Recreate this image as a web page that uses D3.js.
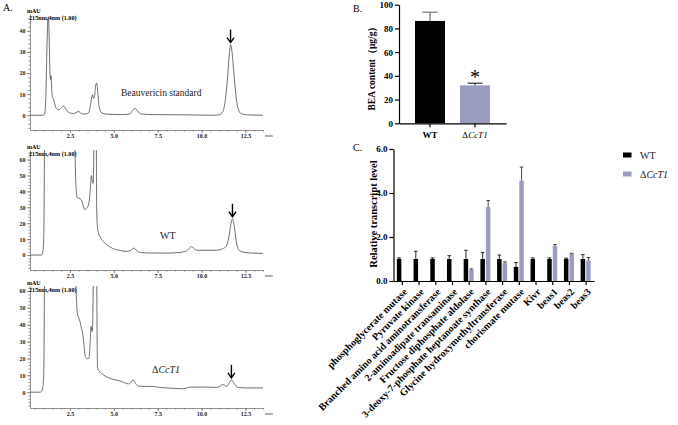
<!DOCTYPE html>
<html>
<head>
<meta charset="utf-8">
<script src="https://cdn.jsdelivr.net/npm/d3@7"></script>
<style>
  body { margin: 0; background: #fff; }
  svg { font-family: "Liberation Serif", "Times New Roman", serif; }
</style>
</head>
<body>
<svg id="fig" width="678" height="425"></svg>
<script>
// ---------- data: chromatograms (time min, mAU) ----------
var stdTrace = [[0.22,0],[0.95,0],[1.05,0.5],[1.12,8],[1.18,30],[1.23,44],[1.27,46.7],[1.31,38],[1.35,22],[1.39,17],[1.42,18.7],
  [1.46,12],[1.5,8.5],[1.55,7.9],[1.6,6.5],[1.7,3.5],[1.85,2.5],[2.0,3.5],[2.12,4.4],[2.25,3],[2.45,1.2],[2.7,0.8],[2.9,1.5],
  [3.0,1.9],[3.1,1],[3.3,0.5],[3.55,1],[3.67,5],[3.75,9],[3.79,9.7],[3.84,8],[3.9,9],[3.96,14],[4.02,15.2],[4.08,11],[4.16,4],
  [4.3,1.2],[4.6,0.5],[5.5,0.3],[5.9,0.6],[6.05,2],[6.2,3.3],[6.35,2],[6.55,0.6],[7.2,0.3],[9,0.2],[10.6,0],[11.0,0.2],[11.2,1.5],
  [11.35,7],[11.48,18],[11.58,29],[11.65,33.5],[11.72,31],[11.82,22],[11.95,10],[12.08,3],[12.25,0.8],[12.6,0.2],[13.5,0]];

var wtTrace = [[0.22,0],[0.88,0],[0.95,2],[1.0,10],[1.04,60],[1.08,200],[1.3,300],[2.6,300],[2.7,200],[2.78,70],[2.86,40],
  [2.92,36],[3.05,35.5],[3.15,34.5],[3.25,31],[3.35,28.5],[3.45,29.5],[3.55,31.5],[3.65,40],[3.72,50],[3.78,46],[3.82,45],
  [3.86,70],[3.9,150],[3.97,150],[4.02,30],[4.06,18],[4.12,14],[4.2,11.7],[4.4,8.5],[4.6,6.5],[4.8,5],[5.0,3.8],[5.3,3],
  [5.7,2.3],[5.95,2.8],[6.14,4.4],[6.3,2.8],[6.5,1.6],[7.0,1.3],[8.0,1.2],[8.6,1.5],[9.1,2.3],[9.3,4.2],[9.42,5.4],[9.55,4.2],
  [9.75,3],[10.3,3],[10.85,3],[11.2,4],[11.4,5.5],[11.55,11],[11.68,20],[11.76,22.8],[11.85,19],[11.97,9],[12.1,3.5],
  [12.3,2],[12.9,1.2],[13.5,1]];

var mutTrace = [[0.22,0],[0.8,0],[0.88,0.5],[0.95,3],[1.0,10],[1.04,60],[1.08,200],[1.3,300],[2.6,300],[2.75,150],[2.84,65],
  [2.92,47],[3.0,44],[3.07,42],[3.15,38],[3.22,35],[3.3,28],[3.35,22.2],[3.42,20.5],[3.49,19.8],[3.56,20],[3.6,21.2],[3.66,32],
  [3.7,39],[3.74,37],[3.77,36],[3.82,60],[3.86,150],[3.99,150],[4.04,40],[4.07,14.3],[4.2,12],[4.4,10.3],[4.6,9],[4.78,8.3],
  [5.0,7.5],[5.34,6.7],[5.6,5.6],[5.82,4.9],[5.95,5.8],[6.1,7.3],[6.25,5],[6.39,3.7],[6.8,3.4],[7.24,3.4],[7.6,2.8],[8.0,2.5],
  [8.5,2.2],[8.95,2.0],[9.15,2.5],[9.33,3],[9.8,3],[10.28,3],[10.85,2.8],[11.05,3.5],[11.19,4.5],[11.3,4.2],[11.42,3.4],
  [11.55,5],[11.7,7.3],[11.82,6],[12.02,3],[12.3,2.6],[12.55,2.5],[13.5,2.5]];

var chromNames = ["Beauvericin standard", "WT", "ΔCcT1"];
var arrowTimes = [11.65, 11.76, 11.7];
var timeTicks = [2.5, 5.0, 7.5, 10.0, 12.5];

// ---------- data: panel B ----------
var beaGroups = ["WT", "ΔCcT1"];
var beaMean = [86.3, 32];
var beaSd = [7.4, 1.8];

// ---------- data: panel C ----------
var genes = ["phosphoglycerate mutase", "Pyruvate kinase", "Branched amino acid aminotransferase",
  "2-aminoadipate transaminase", "Fructose diphosphate aldolase", "3-deoxy-7-phosphate heptanoate synthase",
  "Glycine hydroxymethyltransferase", "chorismate mutase", "Kivr", "beas1", "beas2", "beas3"];
var wtLevel = [1, 1, 1, 1, 1, 1, 1, 0.64, 1, 1, 1, 1];
var wtSd = [0.05, 0.35, 0.05, 0.15, 0.4, 0.3, 0.18, 0.2, 0.05, 0.05, 0.04, 0.2];
var mutLevel = [null, null, null, null, 0.5, 3.36, 0.82, 4.56, null, 1.59, 1.23, 0.92];
var mutSd = [null, null, null, null, 0.05, 0.3, 0.05, 0.62, null, 0.07, 0.03, 0.15];

var purple = "#9a9cc0";
var svg = d3.select("#fig");

// writes a label; a leading Δ stays upright, the gene name goes italic
function deltaText(sel, s) {
  if (s.charAt(0) === "Δ") {
    sel.append("tspan").text("Δ");
    sel.append("tspan").attr("font-style", "italic").text(s.slice(1));
  } else {
    sel.text(s);
  }
}

// ================= A: chromatograms =================
svg.append("text").attr("x", 3).attr("y", 11).attr("font-size", 10).text("A.");

var xc = d3.scaleLinear().domain([0.22, 13.5]).range([30, 263]);

var panels = [
  { trace: stdTrace, top: 14, bottom: 130, yDom: [-7, 48], yTicks: [0, 10, 20, 30, 40], lx: 121, ly: 95.5, fs: 9.5 },
  { trace: wtTrace, top: 150, bottom: 270, yDom: [-9.4, 66], yTicks: [0, 10, 20, 30, 40, 50, 60], lx: 160, ly: 239, fs: 10 },
  { trace: mutTrace, top: 286, bottom: 408, yDom: [-9.4, 63], yTicks: [0, 10, 20, 30, 40, 50, 60], lx: 152, ly: 372.5, fs: 10 }
];

panels.forEach(function(p, i) {
  var y = d3.scaleLinear().domain(p.yDom).range([p.bottom, p.top]);
  var g = svg.append("g");

  // minor ticks
  g.append("g").attr("transform", "translate(30,0)")
    .call(d3.axisLeft(y).tickValues(d3.range(Math.ceil(p.yDom[0] / 2) * 2, p.yDom[1], 2)).tickSize(1.6).tickFormat("").tickSizeOuter(0))
    .call(a => a.select(".domain").remove());
  g.append("g").attr("transform", "translate(0," + p.bottom + ")")
    .call(d3.axisBottom(xc).tickValues(d3.range(0.5, 13.6, 0.5)).tickSize(1.6).tickFormat("").tickSizeOuter(0))
    .call(a => a.select(".domain").remove());

  var yAx = g.append("g").attr("transform", "translate(30,0)")
    .call(d3.axisLeft(y).tickValues(p.yTicks).tickSize(3).tickSizeOuter(0).tickPadding(1.5));
  var xAx = g.append("g").attr("transform", "translate(0," + p.bottom + ")")
    .call(d3.axisBottom(xc).tickValues(timeTicks).tickFormat(d3.format(".1f")).tickSize(3).tickSizeOuter(0));
  xAx.selectAll("text").attr("y", 4).attr("dy", "0.71em");

  [yAx, xAx].forEach(function(a) {
    a.selectAll("text").attr("font-family", "Liberation Serif").attr("font-size", 6).attr("font-weight", "bold").attr("fill", "#222");
  });
  g.selectAll("path.domain, line").attr("stroke", "#777").attr("stroke-width", 0.8);

  g.append("text").attr("x", 27).attr("y", p.top - 1.5).attr("font-size", 6).attr("font-weight", "bold").text("mAU");
  g.append("text").attr("x", 29).attr("y", p.top + 5.5).attr("font-size", 6.2).attr("font-weight", "bold").text("215nm,4nm (1.00)");
  g.append("text").attr("x", 265).attr("y", p.bottom + 7).attr("font-size", 5).attr("fill", "#333").text("min");

  // trace
  var clipId = "clip" + i;
  svg.append("clipPath").attr("id", clipId).append("rect")
    .attr("x", 30).attr("y", p.top).attr("width", 235).attr("height", p.bottom - p.top);
  var line = d3.line().x(d => xc(d[0])).y(d => y(d[1])).curve(d3.curveMonotoneX);
  g.append("path").datum(p.trace).attr("clip-path", "url(#" + clipId + ")")
    .attr("d", line).attr("fill", "none").attr("stroke", "#4a4a4a").attr("stroke-width", 0.8);

  // arrow over the beauvericin peak
  var pk = p.trace.reduce((a, b) => Math.abs(b[0] - arrowTimes[i]) < Math.abs(a[0] - arrowTimes[i]) ? b : a);
  var ax = xc(arrowTimes[i]), ay = y(pk[1]) - 2;
  g.append("line").attr("x1", ax).attr("x2", ax).attr("y1", ay - 13).attr("y2", ay)
    .attr("stroke", "#000").attr("stroke-width", 1.4);
  g.append("path").attr("d", "M" + (ax - 3.5) + "," + (ay - 5) + "L" + ax + "," + ay + "L" + (ax + 3.5) + "," + (ay - 5))
    .attr("fill", "none").attr("stroke", "#000").attr("stroke-width", 1.4);

  var lab = g.append("text").attr("x", p.lx).attr("y", p.ly).attr("font-size", p.fs).attr("fill", "#222");
  deltaText(lab, chromNames[i]);
});

// ================= B: BEA content =================
svg.append("text").attr("x", 353).attr("y", 12).attr("font-size", 10).text("B.");

var xb = d3.scaleBand().domain(beaGroups).range([399, 506]).paddingInner(0.333).paddingOuter(0.356);
var yb = d3.scaleLinear().domain([0, 100]).range([123.3, 4.7]);
var gb = svg.append("g");

gb.selectAll("rect.bar").data(beaGroups).enter().append("rect")
  .attr("x", d => xb(d)).attr("width", xb.bandwidth())
  .attr("y", (d, i) => yb(beaMean[i])).attr("height", (d, i) => yb(0) - yb(beaMean[i]))
  .attr("fill", (d, i) => i === 0 ? "#000" : purple);

beaGroups.forEach(function(d, i) {
  var cx = xb(d) + xb.bandwidth() / 2, top = yb(beaMean[i] + beaSd[i]);
  var col = i === 0 ? "#666" : "#222";
  gb.append("line").attr("x1", cx).attr("x2", cx).attr("y1", yb(beaMean[i])).attr("y2", top).attr("stroke", col).attr("stroke-width", 1.1);
  gb.append("line").attr("x1", cx - 7.5).attr("x2", cx + 7.5).attr("y1", top).attr("y2", top).attr("stroke", col).attr("stroke-width", 1.1);
});
var starX = xb(beaGroups[1]) + xb.bandwidth() / 2;
gb.append("text").attr("x", starX).attr("y", yb(beaMean[1] + beaSd[1]) + 1)
  .attr("text-anchor", "middle").attr("font-size", 20).text("*");

var ybAx = gb.append("g").attr("transform", "translate(399,0)")
  .call(d3.axisLeft(yb).tickValues([0, 20, 40, 60, 80, 100]).tickSize(4).tickSizeOuter(0).tickPadding(2));
var xbAx = gb.append("g").attr("transform", "translate(0,123.3)")
  .call(d3.axisBottom(xb).tickSize(4).tickSizeOuter(0).tickFormat(""));
[ybAx, xbAx].forEach(a => a.selectAll("path.domain, line").attr("stroke", "#000").attr("stroke-width", 1.2));
ybAx.selectAll("text").attr("font-family", "Liberation Serif").attr("font-size", 9).attr("font-weight", "bold").attr("fill", "#000");
beaGroups.forEach(function(d, i) {
  var t = gb.append("text").attr("x", xb(d) + xb.bandwidth() / 2).attr("y", 137.5).attr("text-anchor", "middle").attr("font-size", 9);
  if (i === 0) t.attr("font-weight", "bold");
  deltaText(t, d);
});
gb.append("text").attr("transform", "translate(375,66) rotate(-90)").attr("text-anchor", "middle")
  .attr("font-size", 9.5).attr("font-weight", "bold").text("BEA content（μg/g）");

// ================= C: transcript levels =================
svg.append("text").attr("x", 353).attr("y", 151).attr("font-size", 10).text("C.");

var xg = d3.scalePoint().domain(genes).range([393.5, 594]).padding(0.5);
var yg = d3.scaleLinear().domain([0, 6]).range([281, 149]);
var gc = svg.append("g");
var bw = 4.5;

genes.forEach(function(d, i) {
  var cx = xg(d);
  gc.append("rect").attr("x", cx - 0.5 - bw).attr("width", bw)
    .attr("y", yg(wtLevel[i])).attr("height", yg(0) - yg(wtLevel[i])).attr("fill", "#000");
  var t = yg(wtLevel[i] + wtSd[i]), wx = cx - 0.5 - bw / 2;
  gc.append("line").attr("x1", wx).attr("x2", wx).attr("y1", yg(wtLevel[i])).attr("y2", t).attr("stroke", "#111").attr("stroke-width", 0.9);
  gc.append("line").attr("x1", wx - 1.8).attr("x2", wx + 1.8).attr("y1", t).attr("y2", t).attr("stroke", "#111").attr("stroke-width", 0.9);
  if (mutLevel[i] !== null) {
    gc.append("rect").attr("x", cx + 0.5).attr("width", bw)
      .attr("y", yg(mutLevel[i])).attr("height", yg(0) - yg(mutLevel[i])).attr("fill", purple);
    var tm = yg(mutLevel[i] + mutSd[i]), mx = cx + 0.5 + bw / 2;
    gc.append("line").attr("x1", mx).attr("x2", mx).attr("y1", yg(mutLevel[i])).attr("y2", tm).attr("stroke", "#333").attr("stroke-width", 0.9);
    gc.append("line").attr("x1", mx - 1.8).attr("x2", mx + 1.8).attr("y1", tm).attr("y2", tm).attr("stroke", "#333").attr("stroke-width", 0.9);
  }
});

var ygAx = gc.append("g").attr("transform", "translate(393.5,0)")
  .call(d3.axisLeft(yg).tickValues([0, 2, 4, 6]).tickSize(4).tickSizeOuter(0).tickPadding(2));
var xgAx = gc.append("g").attr("transform", "translate(0,281)")
  .call(d3.axisBottom(xg).tickSize(4).tickSizeOuter(0));
[ygAx, xgAx].forEach(a => a.selectAll("path.domain, line").attr("stroke", "#000").attr("stroke-width", 1.2));
ygAx.selectAll("text").attr("font-family", "Liberation Serif").attr("font-size", 9).attr("font-weight", "bold").attr("fill", "#000");
xgAx.selectAll("text")
  .attr("font-family", "Liberation Serif").attr("font-size", 10).attr("font-weight", "bold").attr("fill", "#000")
  .attr("text-anchor", "end").attr("x", 0).attr("y", 0).attr("dy", "0.35em")
  .attr("transform", "translate(3,9) rotate(-45)");

gc.append("text").attr("transform", "translate(377,214) rotate(-90)").attr("text-anchor", "middle")
  .attr("font-size", 10.5).attr("font-weight", "bold").text("Relative transcript level");

// legend
beaGroups.forEach(function(d, i) {
  gc.append("rect").attr("x", 623).attr("y", 152.5 + i * 19).attr("width", 8.5).attr("height", 5)
    .attr("fill", i === 0 ? "#000" : purple);
  var t = gc.append("text").attr("x", 640).attr("y", 158.5 + i * 19).attr("font-size", 10).attr("fill", "#222");
  deltaText(t, d);
});
</script>
</body>
</html>
